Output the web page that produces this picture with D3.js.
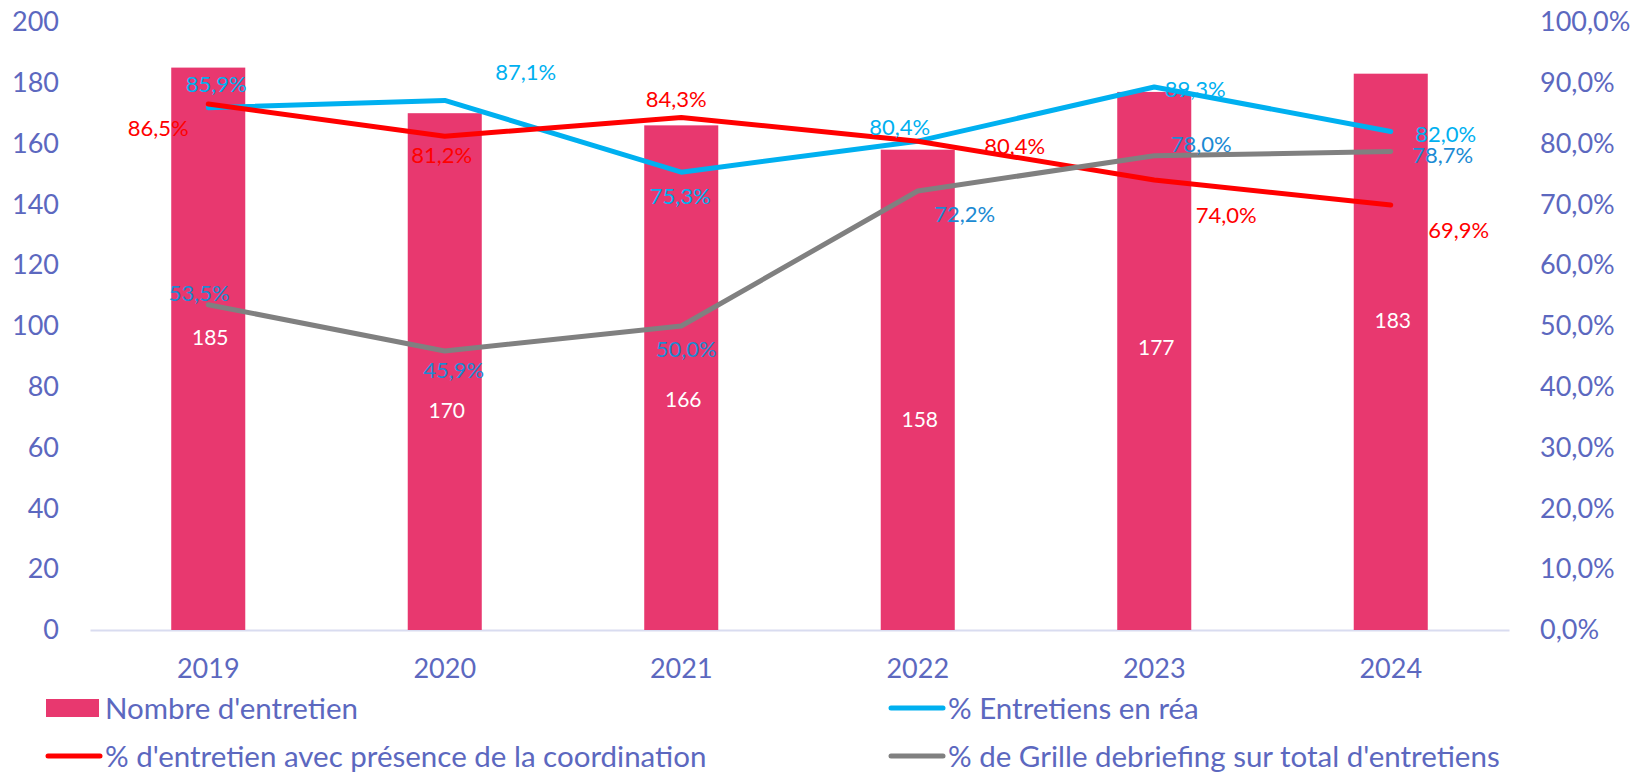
<!DOCTYPE html>
<html>
<head>
<meta charset="utf-8">
<script src="https://cdn.jsdelivr.net/npm/d3@7"></script>
<style>
  html, body { margin: 0; padding: 0; background: #fff; }
  svg text { font-family: Lato, "Open Sans", sans-serif; }
</style>
</head>
<body>
<svg id="chart" width="1637" height="774"></svg>
<script>
// data
const years = ["2019", "2020", "2021", "2022", "2023", "2024"];
const nbEntretiens = [185, 170, 166, 158, 177, 183];
const pctRea = [85.9, 87.1, 75.3, 80.4, 89.3, 82.0];
const pctCoordination = [86.5, 81.2, 84.3, 80.4, 74.0, 69.9];
const pctGrille = [53.5, 45.9, 50.0, 72.2, 78.0, 78.7];
const leftTicks = [0, 20, 40, 60, 80, 100, 120, 140, 160, 180, 200];
const rightTicks = [0, 10, 20, 30, 40, 50, 60, 70, 80, 90, 100];

const legendNames = [
  "Nombre d'entretien",
  "% Entretiens en réa",
  "% d'entretien avec présence de la coordination",
  "% de Grille debriefing sur total d'entretiens"
];

// colours
const barColor = "#e8386f";
const axisColor = "#5c68bf";
const blue = "#00b0f0";
const red = "#ff0000";
const grey = "#808080";
const greyLabel = "#1b8ad3";

// hand placed label offsets (pixels from the point), like in the original
const reaOffsets = [[8, -24], [81, -29], [-1, 23], [-18, -15], [41, 1], [55, 2]];
const coordOffsets = [[-50, 23], [-3, 18], [-5, -19], [97, 4], [72, 34], [68, 24]];
const grilleOffsets = [[-9, -12], [9, 19], [5, 22], [47, 22], [47, -12], [52, 3]];
const barLabelDrop = [269, 296, 273, 269, 255, 246];

const margin = { top: 22, left: 90, right: 128, bottom: 144 };
const width = 1637;
const height = 774;
const plotBottom = height - margin.bottom;   // 630
const plotRight = width - margin.right;      // 1509

const fr = d3.formatLocale({ decimal: ",", thousands: " ", grouping: [3], currency: ["", " €"] });
const pct = fr.format(".1f");

const svg = d3.select("#chart");

const x = d3.scaleBand()
  .domain(years)
  .range([margin.left, plotRight])
  .paddingInner(0.687)
  .paddingOuter(0.3435);

const yLeft = d3.scaleLinear().domain([0, 200]).range([plotBottom, margin.top]);
const yRight = d3.scaleLinear().domain([0, 100]).range([plotBottom, margin.top]);

const cx = d => x(d) + x.bandwidth() / 2;

// axes
const leftAxis = svg.append("g")
  .attr("transform", "translate(" + margin.left + ",0)")
  .call(d3.axisLeft(yLeft).tickValues(leftTicks).tickSize(0).tickPadding(31));
leftAxis.select(".domain").remove();

const rightAxis = svg.append("g")
  .attr("transform", "translate(" + plotRight + ",0)")
  .call(d3.axisRight(yRight).tickValues(rightTicks).tickSize(0).tickPadding(31)
    .tickFormat(d => pct(d) + "%"));
rightAxis.select(".domain").remove();

const xAxis = svg.append("g")
  .attr("transform", "translate(0," + plotBottom + ")")
  .call(d3.axisBottom(x).tickSize(0).tickPadding(39));
xAxis.select(".domain").attr("stroke", "#d9dcf0").attr("stroke-width", 2);
xAxis.selectAll("text").attr("dy", "0.35em");

svg.selectAll(".tick text")
  .attr("fill", axisColor)
  .style("font-size", "27px")
  .style("font-family", "Lato, sans-serif");

// bars
svg.append("g")
  .selectAll("rect")
  .data(nbEntretiens)
  .join("rect")
    .attr("x", (d, i) => x(years[i]))
    .attr("y", d => yLeft(d))
    .attr("width", x.bandwidth())
    .attr("height", d => plotBottom - yLeft(d))
    .attr("fill", barColor);

// lines, drawn in legend order
const line = d3.line()
  .x((d, i) => cx(years[i]))
  .y(d => yRight(d));

const series = [
  { values: pctRea, color: blue, labelColor: blue, offsets: reaOffsets },
  { values: pctCoordination, color: red, labelColor: red, offsets: coordOffsets },
  { values: pctGrille, color: grey, labelColor: greyLabel, offsets: grilleOffsets }
];

series.forEach(s => {
  svg.append("path")
    .datum(s.values)
    .attr("d", line)
    .attr("fill", "none")
    .attr("stroke", s.color)
    .attr("stroke-width", 5)
    .attr("stroke-linecap", "round")
    .attr("stroke-linejoin", "round");
});

// bar labels
svg.append("g")
  .selectAll("text")
  .data(nbEntretiens)
  .join("text")
    .attr("x", (d, i) => cx(years[i]) + 2)
    .attr("y", (d, i) => yLeft(d) + barLabelDrop[i])
    .attr("text-anchor", "middle")
    .attr("dominant-baseline", "central")
    .attr("fill", "#fff")
    .style("font-size", "21px")
    .text(d => d);

// line labels
series.forEach(s => {
  svg.append("g")
    .selectAll("text")
    .data(s.values)
    .join("text")
      .attr("x", (d, i) => cx(years[i]) + s.offsets[i][0])
      .attr("y", (d, i) => yRight(d) + s.offsets[i][1])
      .attr("text-anchor", "middle")
      .attr("dominant-baseline", "central")
      .attr("fill", s.labelColor)
      .style("font-size", "22px")
      .text(d => pct(d) + "%");
});

// legend
const legendItems = [
  { name: legendNames[0], type: "rect", color: barColor, x: 46, y: 707 },
  { name: legendNames[1], type: "line", color: blue, x: 889, y: 707 },
  { name: legendNames[2], type: "line", color: red, x: 46, y: 755 },
  { name: legendNames[3], type: "line", color: grey, x: 889, y: 755 }
];

const legend = svg.append("g")
  .selectAll("g")
  .data(legendItems)
  .join("g")
    .attr("transform", d => "translate(" + d.x + "," + d.y + ")");

legend.filter(d => d.type === "rect")
  .append("rect")
    .attr("x", 0)
    .attr("y", -8)
    .attr("width", 53)
    .attr("height", 18)
    .attr("fill", d => d.color);

legend.filter(d => d.type === "line")
  .append("line")
    .attr("x1", 2)
    .attr("x2", 54)
    .attr("y1", 1)
    .attr("y2", 1)
    .attr("stroke", d => d.color)
    .attr("stroke-width", 5)
    .attr("stroke-linecap", "round");

legend.append("text")
  .attr("x", 59)
  .attr("dominant-baseline", "central")
  .attr("fill", axisColor)
  .style("font-size", "29.5px")
  .text(d => d.name);
</script>
</body>
</html>
